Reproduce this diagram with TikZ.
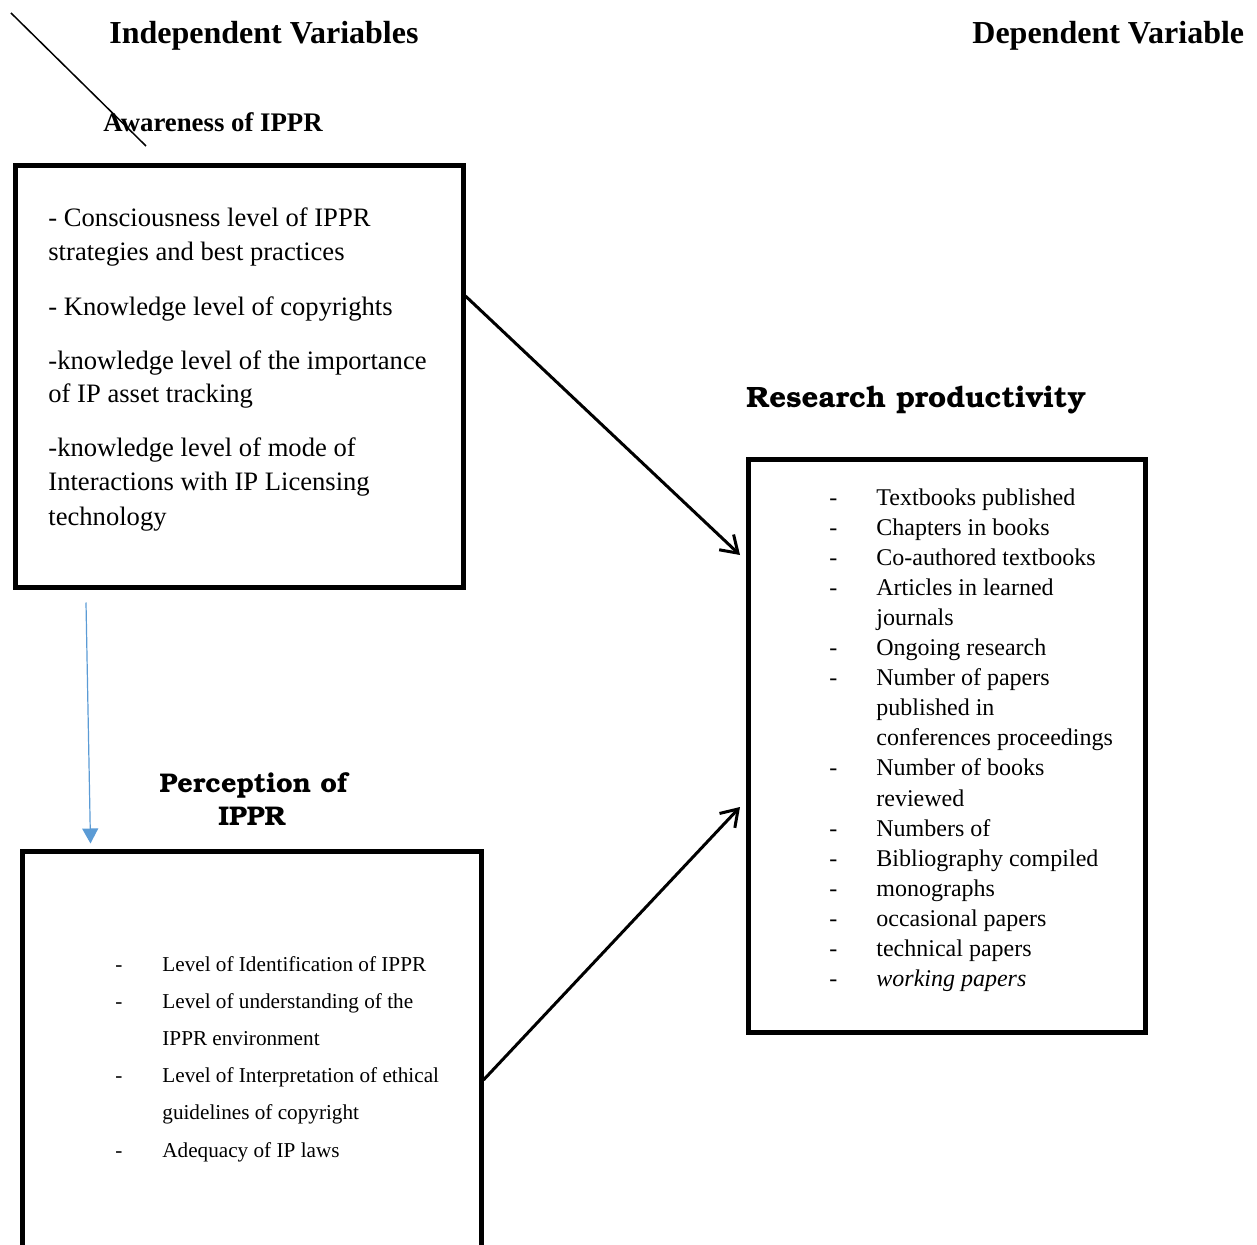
\documentclass[tikz,border=0pt]{standalone}
\usepackage[T1]{fontenc}
\usepackage{fontspec}
\setmainfont{Liberation Serif}
\usetikzlibrary{arrows.meta,calc}
\newcommand\bkfont{\fontencoding{T1}\fontfamily{pbk}\fontseries{b}\fontshape{n}\selectfont}
\begin{document}
\begin{tikzpicture}[x=0.5pt,y=-0.5pt,
  box/.style={draw, line width=2.5pt, inner sep=0pt},
  head/.style={anchor=base west, inner sep=0pt, font=\fontsize{16}{19}\selectfont\bfseries},
  subhead/.style={anchor=base west, inner sep=0pt, font=\fontsize{13.4}{16}\selectfont\bfseries},
  bkhead/.style={anchor=base, inner sep=0pt, font=\fontsize{13.5}{16.5}\bkfont},
  atxt/.style={anchor=base west, inner sep=0pt, font=\fontsize{13.3}{17}\selectfont},
  rtxt/.style={anchor=base west, inner sep=0pt, font=\fontsize{12}{15}\selectfont},
  ptxt/.style={anchor=base west, inner sep=0pt, font=\fontsize{10.6}{13}\selectfont},
  conn/.style={line width=1.5pt, -{Straight Barb[length=8pt,width=10.5pt,line width=1.5pt]}},
  blueconn/.style={draw={rgb,255:red,91;green,155;blue,213}, line width=0.6pt,
     -{Triangle[length=7.5pt,width=8pt,fill={rgb,255:red,91;green,155;blue,213}]}}
]
\useasboundingbox (0,0) rectangle (1257,1245);
\clip (0,0) rectangle (1257,1245);

% headings
\node[head] (indep) at (109,43.3) {Independent Variables};
\node[head] (dep) at (972,43.3) {Dependent Variable};
\node[subhead] (aware) at (103,132) {Awareness of IPPR};
\node[bkhead, anchor=base west, font=\fontsize{14.7}{17}\bkfont] (research) at (746,408) {Research productivity};
\node[bkhead] (perc1) at (253.5,792) {Perception of};
\node[bkhead] (perc2) at (252,825) {IPPR};

% diagonal stroke
\coordinate (d1) at (11,13);
\coordinate (d2) at (146,146);
\draw[line width=0.75pt] (d1) -- (d2);

% boxes
\node[box, minimum width=223.75pt, minimum height=210.75pt] (b1) at (239.25,376.25) {};
\node[box, minimum width=229.5pt, minimum height=224.25pt] (b2) at (251.5,1075.75) {};
\node[box, minimum width=198.5pt, minimum height=286pt] (b3) at (947,746) {};

% box 1 text
\foreach \y/\t [count=\i] in {
  226.5/{- Consciousness level of IPPR},
  260.5/{strategies and best practices},
  315.5/{- Knowledge level of copyrights},
  369.5/{-knowledge level of the importance},
  403/{of IP asset tracking},
  457/{-knowledge level of mode of},
  491/{Interactions with IP Licensing},
  525/{technology}}
  {\node[atxt] (a\i) at (48,\y) {\t};}

% box 3 text
\foreach \t/\dsh [count=\i from 0] in {
  Textbooks published/1,
  Chapters in books/1,
  Co-authored textbooks/1,
  Articles in learned/1,
  journals/0,
  Ongoing research/1,
  Number of papers/1,
  published in/0,
  conferences proceedings/0,
  Number of books/1,
  reviewed/0,
  Numbers of/1,
  Bibliography compiled/1,
  monographs/1,
  occasional papers/1,
  technical papers/1,
  \textit{working papers}/1}
  {\pgfmathsetmacro\yy{505+30.1*\i}
   \node[rtxt] (r\i) at (876,\yy) {\t};
   \ifnum\dsh=1 \node[rtxt] (rd\i) at (829,\yy) {-};\fi}

% box 2 text
\foreach \t/\dsh [count=\i from 0] in {
  Level of Identification of IPPR/1,
  Level of understanding of the/1,
  IPPR environment/0,
  Level of Interpretation of ethical/1,
  guidelines of copyright/0,
  Adequacy of IP laws/1}
  {\pgfmathsetmacro\yy{971.7+37.06*\i}
   \node[ptxt] (p\i) at (162,\yy) {\t};
   \ifnum\dsh=1 \node[ptxt] (pd\i) at (115,\yy) {-};\fi}

% connectors
\draw[conn] ([yshift=40.1pt]b1.east) -- ([xshift=-3pt,yshift=95.5pt]b3.west);
\draw[conn] ([yshift=-2.1pt]b2.east) -- ([xshift=-3pt,yshift=-30.5pt]b3.west);
\draw[blueconn] ([xshift=36.5pt,yshift=-6.5pt]b1.south west) -- ([xshift=35.5pt,yshift=2.75pt]b2.north west);
\end{tikzpicture}
\end{document}
